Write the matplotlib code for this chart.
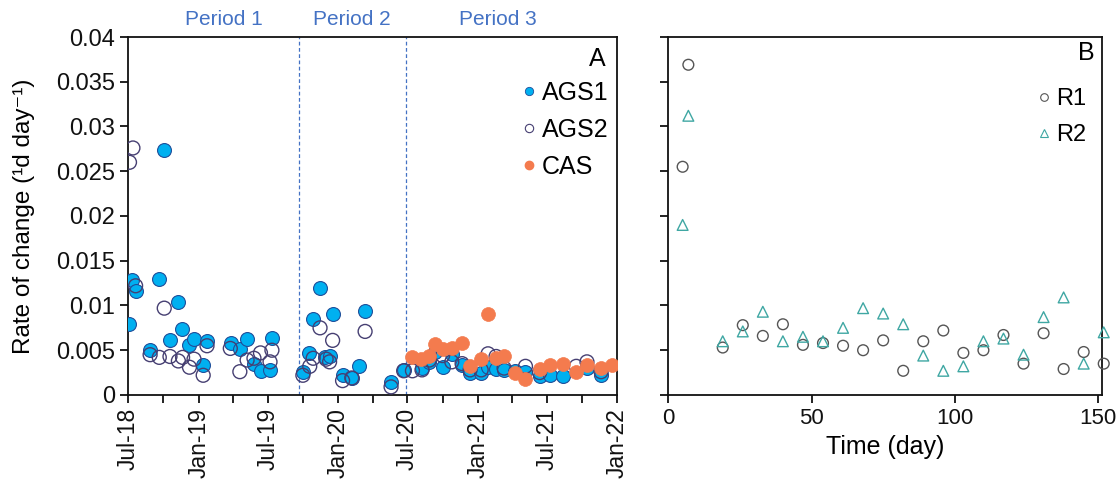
import matplotlib
matplotlib.use("Agg")
import matplotlib.pyplot as plt
import matplotlib.dates as mdates
from matplotlib.lines import Line2D
from matplotlib.ticker import FuncFormatter, FixedLocator
import numpy as np

plt.rcParams['font.family'] = ['Liberation Sans', 'DejaVu Sans']

# ---------------- Panel A data ----------------
ags1_dates = ["2018-07-04", "2018-07-10", "2018-07-20", "2018-08-28", "2018-09-19", "2018-10-03",
              "2018-10-18", "2018-11-07", "2018-11-19", "2018-12-07", "2018-12-20", "2019-01-12",
              "2019-01-23", "2019-03-27", "2019-04-19", "2019-05-08", "2019-05-26", "2019-06-14",
              "2019-07-07", "2019-07-13", "2019-10-01", "2019-10-18", "2019-10-27", "2019-11-15",
              "2019-11-27", "2019-12-11", "2019-12-18", "2020-01-13", "2020-02-06", "2020-02-24",
              "2020-03-12", "2020-05-19", "2020-06-21", "2020-08-07", "2020-08-27", "2020-09-11",
              "2020-10-01", "2020-10-25", "2020-11-21", "2020-12-12", "2021-01-10", "2021-01-28",
              "2021-02-18", "2021-03-11", "2021-04-09", "2021-05-06", "2021-06-12", "2021-07-08",
              "2021-08-12", "2021-10-14", "2021-11-20"]
ags1_rate = [0.0079, 0.0128, 0.0116, 0.0050, 0.0130, 0.0274, 0.0061, 0.0104, 0.0074, 0.0056,
             0.0063, 0.0034, 0.0060, 0.0058, 0.0051, 0.0063, 0.0035, 0.0027, 0.0028, 0.0064,
             0.0026, 0.0047, 0.0085, 0.0120, 0.0042, 0.0044, 0.0091, 0.0022, 0.0019, 0.0032,
             0.0094, 0.0014, 0.0028, 0.0030, 0.0037, 0.0048, 0.0031, 0.0046, 0.0034, 0.0025,
             0.0024, 0.0031, 0.0029, 0.0028, 0.0027, 0.0026, 0.0021, 0.0022, 0.0021, 0.0030,
             0.0022]

ags2_dates = ["2018-07-04", "2018-07-13", "2018-07-20", "2018-08-27", "2018-09-20", "2018-10-03",
              "2018-10-18", "2018-11-09", "2018-11-20", "2018-12-08", "2018-12-20", "2019-01-13",
              "2019-01-23", "2019-03-25", "2019-04-19", "2019-05-08", "2019-05-26", "2019-06-12",
              "2019-07-07", "2019-07-12", "2019-10-01", "2019-10-19", "2019-10-28", "2019-11-15",
              "2019-12-01", "2019-12-10", "2019-12-18", "2020-01-13", "2020-02-06", "2020-03-12",
              "2020-05-19", "2020-06-21", "2020-07-14", "2020-08-08", "2020-08-27", "2020-10-01",
              "2020-10-25", "2020-11-21", "2020-12-12", "2021-01-10", "2021-01-28", "2021-02-18",
              "2021-03-11", "2021-05-06", "2021-06-12", "2021-09-16", "2021-10-14", "2021-11-20"]
ags2_rate = [0.0260, 0.0276, 0.0122, 0.0045, 0.0042, 0.0097, 0.0043, 0.0038, 0.0042, 0.0031,
             0.0040, 0.0022, 0.0055, 0.0052, 0.0026, 0.0039, 0.0041, 0.0047, 0.0037, 0.0050,
             0.0022, 0.0032, 0.0041, 0.0075, 0.0040, 0.0037, 0.0061, 0.0016, 0.0019, 0.0071,
             0.0009, 0.0027, 0.0027, 0.0028, 0.0039, 0.0044, 0.0037, 0.0035, 0.0028, 0.0028,
             0.0046, 0.0043, 0.0030, 0.0032, 0.0025, 0.0032, 0.0037, 0.0026]

cas_dates = ["2020-07-14", "2020-08-06", "2020-08-27", "2020-09-10", "2020-10-01", "2020-10-25",
             "2020-11-21", "2020-12-12", "2021-01-10", "2021-01-28", "2021-02-18", "2021-03-11",
             "2021-04-09", "2021-05-06", "2021-06-12", "2021-07-08", "2021-08-12", "2021-09-16",
             "2021-10-14", "2021-11-20", "2021-12-19"]
cas_rate = [0.0042, 0.0040, 0.0044, 0.0057, 0.0051, 0.0052, 0.0058, 0.0032, 0.0040, 0.0091,
            0.0041, 0.0044, 0.0025, 0.0018, 0.0029, 0.0034, 0.0035, 0.0026, 0.0034, 0.0030,
            0.0034]

period_bounds = ["2019-09-21", "2020-06-26"]
period_labels = ["Period 1", "Period 2", "Period 3"]

# ---------------- Panel B data ----------------
r1_day = [5, 7, 19, 26, 33, 40, 47, 54, 61, 68, 75, 82, 89, 96, 103, 110, 117, 124, 131, 138, 145, 152]
r1_rate = [0.0255, 0.0369, 0.0053, 0.0078, 0.0066, 0.0079, 0.0056, 0.0058, 0.0055, 0.0050,
           0.0061, 0.0027, 0.0060, 0.0072, 0.0047, 0.0050, 0.0067, 0.0035, 0.0069, 0.0029,
           0.0048, 0.0035]
r2_day = [5, 7, 19, 26, 33, 40, 47, 54, 61, 68, 75, 82, 89, 96, 103, 110, 117, 124, 131, 138, 145, 152]
r2_rate = [0.0190, 0.0312, 0.0060, 0.0071, 0.0093, 0.0060, 0.0065, 0.0060, 0.0075, 0.0097,
           0.0091, 0.0079, 0.0044, 0.0027, 0.0032, 0.0060, 0.0063, 0.0045, 0.0087, 0.0109,
           0.0035, 0.0070]

# ---------------- styling ----------------
C_AGS1 = "#00B0F0"
C_AGS1_EDGE = "#1F4E9A"
C_AGS2_EDGE = "#463F72"
C_CAS = "#F47B4E"
C_R1 = "#555555"
C_R2 = "#3FA7A3"
C_PERIOD = "#4472C4"

to_dt = lambda seq: np.array(seq, dtype="datetime64[D]")

fig = plt.figure(figsize=(11.2, 4.87), dpi=100)
axA = fig.add_axes([0.1146, 0.189, 0.4364, 0.735])
axB = fig.add_axes([0.5967, 0.189, 0.3875, 0.735])

for ax in (axA, axB):
    for sp in ax.spines.values():
        sp.set_linewidth(1.3)
        sp.set_color("#111111")
    ax.tick_params(direction="out", length=6, width=1.3, colors="#111111")
    ax.set_ylim(0, 0.04)
    ax.yaxis.set_major_locator(FixedLocator(np.arange(0, 0.0401, 0.005)))

axA.tick_params(axis="y", labelsize=17)
axA.tick_params(axis="x", labelsize=16.5)
axB.tick_params(labelsize=16)

# Panel A
axA.scatter(to_dt(ags1_dates), ags1_rate, s=100, facecolor=C_AGS1, edgecolor=C_AGS1_EDGE,
            linewidth=0.8, zorder=3)
axA.scatter(to_dt(ags2_dates), ags2_rate, s=100, facecolor="none", edgecolor=C_AGS2_EDGE,
            linewidth=1.0, zorder=4)
axA.scatter(to_dt(cas_dates), cas_rate, s=100, facecolor=C_CAS, edgecolor=C_CAS,
            linewidth=0.5, zorder=5)

for b in to_dt(period_bounds):
    axA.axvline(b, color=C_PERIOD, linestyle=(0, (3, 2)), linewidth=0.9, zorder=1)

axA.set_xlim(np.datetime64("2018-07-01"), np.datetime64("2022-01-01"))
axA.xaxis.set_major_locator(mdates.MonthLocator(bymonth=[1, 4, 7, 10]))
axA.xaxis.set_major_formatter(FuncFormatter(
    lambda v, pos: mdates.num2date(v).strftime("%b-%y") if mdates.num2date(v).month in (1, 7) else ""))
plt.setp(axA.get_xticklabels(), rotation=90, ha="center", va="top")
axA.yaxis.set_major_formatter(FuncFormatter(lambda v, pos: f"{v:g}" if v else "0"))
axA.set_ylabel("Rate of change (\u00b9d day\u207b\u00b9)", fontsize=17.5)
axA.yaxis.set_label_coords(-0.19, 0.5)

for lab, xf in zip(period_labels, [0.196, 0.458, 0.756]):
    axA.text(xf, 1.05, lab, transform=axA.transAxes, ha="center", va="center",
             fontsize=15, color=C_PERIOD)

axA.text(0.977, 0.9385, "A", transform=axA.transAxes, ha="right", va="center", fontsize=18)
hA = [Line2D([], [], marker="o", linestyle="none", markersize=6, markerfacecolor=C_AGS1,
             markeredgecolor=C_AGS1_EDGE, markeredgewidth=0.6),
      Line2D([], [], marker="o", linestyle="none", markersize=6, markerfacecolor="white",
             markeredgecolor=C_AGS2_EDGE, markeredgewidth=0.8),
      Line2D([], [], marker="o", linestyle="none", markersize=6, markerfacecolor=C_CAS,
             markeredgecolor=C_CAS)]
axA.legend(hA, ["AGS1", "AGS2", "CAS"], loc="upper right", bbox_to_anchor=(0.982, 0.878),
           frameon=False, fontsize=18, handlelength=0.6, handletextpad=0.2,
           labelspacing=0.52, borderaxespad=0, borderpad=0)

# Panel B
axB.scatter(r1_day, r1_rate, s=60, marker="o", facecolor="none", edgecolor=C_R1,
            linewidth=1.0, zorder=3, clip_on=False)
axB.scatter(r2_day, r2_rate, s=60, marker="^", facecolor="none", edgecolor=C_R2,
            linewidth=1.0, zorder=4, clip_on=False)
axB.set_xlim(0, 151.5)
axB.set_xticks([0, 50, 100, 150])
axB.set_yticklabels([])
axB.set_xlabel("Time (day)", fontsize=18, labelpad=4)

axB.text(0.983, 0.954, "B", transform=axB.transAxes, ha="right", va="center", fontsize=18)
hB = [Line2D([], [], marker="o", linestyle="none", markersize=5.5, markerfacecolor="white",
             markeredgecolor=C_R1, markeredgewidth=0.8),
      Line2D([], [], marker="^", linestyle="none", markersize=5.5, markerfacecolor="white",
             markeredgecolor=C_R2, markeredgewidth=0.8)]
axB.legend(hB, ["R1", "R2"], loc="upper right", bbox_to_anchor=(0.963, 0.858),
           frameon=False, fontsize=17, handlelength=0.6, handletextpad=0.2,
           labelspacing=0.6, borderaxespad=0, borderpad=0)

fig.savefig("out.png", dpi=100, facecolor="white")
